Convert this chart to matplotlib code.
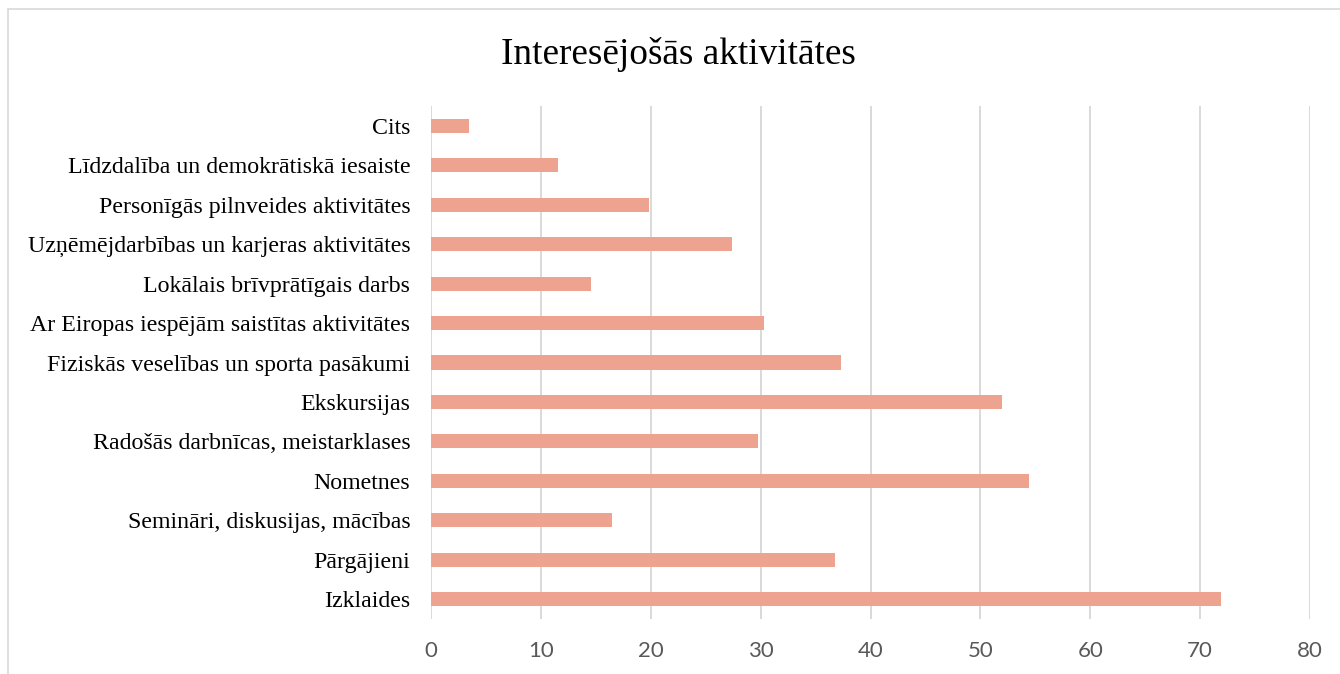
import matplotlib.pyplot as plt
from matplotlib.patches import Rectangle

# dati (no apakšas uz augšu)
categories = [
    'Izklaides',
    'Pārgājieni',
    'Semināri, diskusijas, mācības',
    'Nometnes',
    'Radošās darbnīcas, meistarklases',
    'Ekskursijas',
    'Fiziskās veselības un sporta pasākumi',
    'Ar Eiropas iespējām saistītas aktivitātes',
    'Lokālais brīvprātīgais darbs',
    'Uzņēmējdarbības un karjeras aktivitātes',
    'Personīgās pilnveides aktivitātes',
    'Līdzdalība un demokrātiskā iesaiste',
    'Cits',
]
values = [71.9, 36.8, 16.5, 54.4, 29.8, 52.0, 37.3, 30.3, 14.6, 27.4, 19.8, 11.6, 3.5]
x_ticks = [0, 10, 20, 30, 40, 50, 60, 70, 80]
title = 'Interesējošās aktivitātes'

W, H = 1340, 674
fig = plt.figure(figsize=(W / 100, H / 100), dpi=100)
ax = fig.add_axes([431 / W, 1 - 619 / H, (1310 - 431) / W, (619 - 106) / H])

ax.barh(range(len(categories)), values, height=0.355, color='#EDA38F', zorder=3)

ax.set_xlim(0, 80)
ax.set_ylim(-0.5, len(categories) - 0.5)
ax.set_xticks(x_ticks)
ax.set_yticks(range(len(categories)))
ax.set_yticklabels(categories, family='Liberation Serif', fontsize=17.2, color='black')
ax.set_xticklabels([str(t) for t in x_ticks], family='Lato', fontsize=16, color='#595959')
ax.tick_params(axis='y', length=0, pad=15)
ax.tick_params(axis='x', length=0, pad=16)

ax.grid(axis='x', color='#D9D9D9', linewidth=1.4, zorder=0)
for s in ax.spines.values():
    s.set_visible(False)

fig.text(678.5 / W, 1 - 54 / H, title, ha='center', va='center',
         family='Liberation Serif', fontsize=26.8, color='black')

# rāmis ap diagrammu
fig.add_artist(Rectangle((8 / W, -0.1), 1.2, 1 - 9 / H + 0.1, transform=fig.transFigure,
                         fill=False, edgecolor='#D9D9D9', linewidth=1.2))

fig.savefig('out.png', dpi=100)
